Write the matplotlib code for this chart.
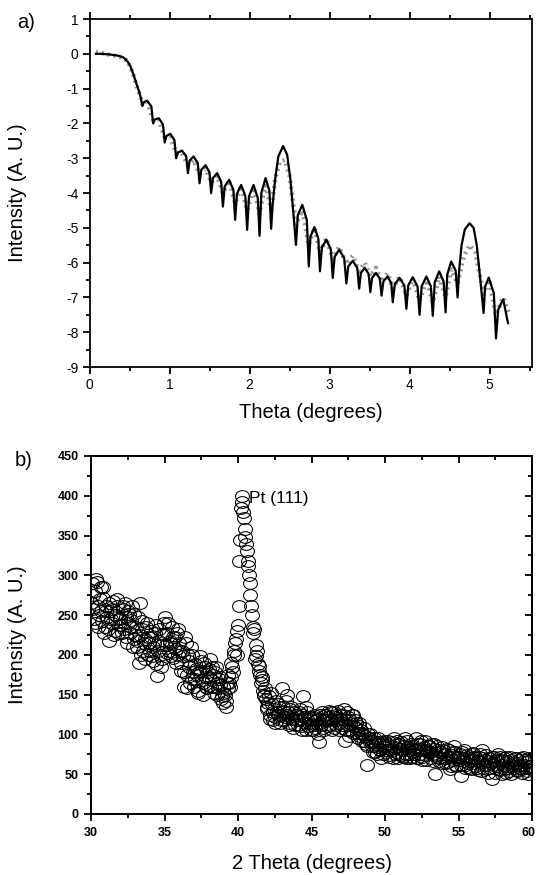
import numpy as np
import matplotlib
matplotlib.use("Agg")
import matplotlib.pyplot as plt
import matplotlib.transforms as mtransforms
from matplotlib.path import Path
from matplotlib.ticker import MultipleLocator

plt.rcParams['font.family'] = ['Liberation Sans', 'DejaVu Sans']
plt.rcParams['axes.unicode_minus'] = False

# ---- panel a: reflectivity, simulated (solid) and measured (dots) ----
sim_theta = [0.08, 0.15, 0.25, 0.35, 0.42, 0.47, 0.51, 0.55, 0.585, 0.615, 0.64,
             0.66, 0.678, 0.72, 0.773,
             0.795, 0.816, 0.865, 0.918,
             0.94, 0.961, 1.01, 1.061,
             1.083, 1.105, 1.155, 1.208,
             1.23, 1.251, 1.30, 1.353,
             1.375, 1.398, 1.45, 1.499,
             1.52, 1.543, 1.595, 1.645,
             1.667, 1.69, 1.745, 1.798,
             1.82, 1.843, 1.895, 1.948,
             1.97, 1.994, 2.05, 2.103,
             2.125, 2.148, 2.20, 2.249,
             2.27, 2.29, 2.32, 2.36, 2.42, 2.47, 2.51, 2.545,
             2.58, 2.604, 2.66, 2.716,
             2.74, 2.761, 2.81, 2.859,
             2.88, 2.904, 2.96, 3.016,
             3.04, 3.064, 3.12, 3.183,
             3.21, 3.234, 3.29, 3.346,
             3.37, 3.391, 3.44, 3.489,
             3.51, 3.531, 3.58, 3.629,
             3.65, 3.673, 3.725, 3.771,
             3.79, 3.816, 3.875, 3.935,
             3.96, 3.984, 4.04, 4.10,
             4.125, 4.151, 4.21, 4.266,
             4.29, 4.314, 4.37, 4.426,
             4.45, 4.471, 4.52, 4.576,
             4.60, 4.62, 4.65, 4.69, 4.75, 4.80, 4.84, 4.88,
             4.925, 4.944, 4.99, 5.053,
             5.08, 5.107, 5.17, 5.23]
sim_int = [0.0, 0.0, -0.02, -0.05, -0.1, -0.2, -0.35, -0.6, -0.85, -1.05, -1.25,
           -1.5, -1.39, -1.35, -1.51,
           -2.0, -1.89, -1.85, -2.03,
           -2.55, -2.36, -2.3, -2.48,
           -3.0, -2.84, -2.78, -2.94,
           -3.43, -3.07, -2.95, -3.14,
           -3.72, -3.33, -3.2, -3.4,
           -4.0, -3.57, -3.43, -3.67,
           -4.39, -3.81, -3.62, -3.91,
           -4.77, -4.02, -3.77, -4.09,
           -5.06, -4.09, -3.77, -4.14,
           -5.23, -3.99, -3.57, -3.94,
           -5.03, -4.3, -3.6, -2.95, -2.65, -2.9, -3.6, -4.5,
           -5.49, -4.63, -4.34, -4.78,
           -6.11, -5.26, -4.98, -5.3,
           -6.25, -5.57, -5.34, -5.62,
           -6.44, -5.83, -5.63, -5.87,
           -6.6, -6.11, -5.95, -6.15,
           -6.75, -6.3, -6.15, -6.33,
           -6.85, -6.44, -6.3, -6.46,
           -6.95, -6.54, -6.4, -6.59,
           -7.14, -6.62, -6.44, -6.66,
           -7.33, -6.65, -6.42, -6.69,
           -7.5, -6.68, -6.4, -6.68,
           -7.53, -6.57, -6.25, -6.55,
           -7.43, -6.34, -5.97, -6.23,
           -7.0, -6.2, -5.5, -5.05, -4.87, -5.0, -5.5, -6.4,
           -7.45, -6.69, -6.43, -6.88,
           -8.18, -7.35, -7.05, -7.74]

meas_theta = [0.08, 0.2, 0.3, 0.4, 0.47, 0.52, 0.56, 0.6, 0.64,
              0.66, 0.72, 0.795, 0.865, 0.94, 1.01, 1.083, 1.155, 1.23, 1.30,
              1.375, 1.45, 1.52, 1.595, 1.667, 1.745, 1.82, 1.895, 1.97, 2.05,
              2.125, 2.2, 2.27, 2.32, 2.38, 2.44, 2.5, 2.58, 2.66, 2.74, 2.81,
              2.88, 2.96, 3.04, 3.12, 3.21, 3.29, 3.37, 3.44, 3.51, 3.58, 3.65,
              3.725, 3.79, 3.875, 3.96, 4.04, 4.125, 4.21, 4.29, 4.37, 4.45,
              4.52, 4.6, 4.68, 4.75, 4.82, 4.925, 4.99, 5.08, 5.17, 5.25]
meas_int = [0.05, 0.0, -0.05, -0.1, -0.2, -0.42, -0.7, -1.0, -1.25,
            -1.45, -1.38, -1.9, -1.9, -2.4, -2.4, -2.85, -2.85, -3.2, -3.05,
            -3.45, -3.3, -3.7, -3.5, -4.0, -3.65, -4.3, -3.8, -4.5, -3.85,
            -4.6, -3.7, -4.5, -3.6, -3.1, -3.05, -3.5, -4.9, -4.5, -5.5, -5.0,
            -5.7, -5.3, -5.9, -5.55, -6.05, -5.8, -6.25, -6.0, -6.4, -6.15, -6.55,
            -6.3, -6.75, -6.4, -6.95, -6.45, -7.1, -6.5, -7.15, -6.4, -7.0,
            -6.2, -6.6, -5.8, -5.5, -5.7, -6.9, -6.5, -7.5, -7.0, -7.5]

# ---- panel b: XRD scan, 2 theta 30..60, two interleaved passes ----
two_theta_a = np.round(np.arange(30.0, 60.001, 0.1), 2)
counts_a = [
    265, 290, 245, 280, 292, 235, 270, 255, 285, 228,   # 30
    262, 248, 218, 255, 240, 268, 230, 250, 262, 238,   # 31
    245, 228, 258, 265, 222, 240, 252, 235, 262, 220,   # 32
    225, 210, 248, 265, 200, 232, 215, 195, 240, 222,   # 33
    205, 230, 192, 215, 238, 173, 218, 200, 195, 226,   # 34
    248, 212, 228, 205, 218, 235, 196, 222, 208, 232,   # 35
    215, 190, 205, 178, 222, 158, 200, 185, 210, 170,   # 36
    160, 188, 175, 152, 198, 180, 165, 190, 172, 158,   # 37
    182, 195, 168, 175, 160, 185, 150, 170, 162, 148,   # 38
    140, 150, 135, 158, 165, 172, 185, 200, 215, 230,   # 39
    238, 318, 385, 400, 372, 348, 330, 312, 290, 262,   # 40
    235, 232, 198, 205, 186, 175, 168, 155, 150, 145,   # 41
    132, 148, 120, 138, 128, 115, 142, 125, 135, 118,   # 42
    158, 130, 122, 150, 128, 115, 135, 120, 128, 112,   # 43
    125, 118, 132, 110, 148, 122, 105, 128, 115, 120,   # 44
    118, 105, 125, 112, 120, 90, 115, 128, 108, 118,    # 45
    125, 110, 130, 118, 105, 128, 122, 112, 130, 115,   # 46
    120, 108, 132, 92, 128, 112, 118, 106, 125, 110,    # 47
    115, 102, 110, 98, 105, 100, 92, 88, 62, 95,        # 48
    100, 85, 92, 78, 88, 95, 82, 70, 90, 84,            # 49
    86, 78, 92, 72, 85, 80, 95, 75, 88, 70,             # 50
    82, 90, 72, 85, 76, 92, 80, 70, 86, 78,             # 51
    75, 96, 70, 82, 88, 72, 80, 92, 68, 78,             # 52
    85, 70, 76, 88, 50, 72, 80, 66, 78, 84,             # 53
    70, 76, 82, 65, 72, 60, 78, 85, 62, 72,             # 54
    68, 75, 48, 70, 80, 62, 72, 58, 66, 76,             # 55
    77, 60, 70, 55, 72, 65, 80, 58, 68, 62,             # 56
    52, 70, 64, 44, 72, 58, 66, 75, 55, 68,             # 57
    62, 70, 52, 66, 58, 72, 50, 64, 60, 70,             # 58
    55, 68, 62, 52, 72, 58, 65, 50, 70, 60,             # 59
    58]

two_theta_b = np.round(np.arange(30.05, 60.0, 0.1), 2)
counts_b = [
    258, 275, 240, 295, 262, 250, 285, 242, 272, 235,   # 30
    255, 232, 265, 245, 258, 225, 250, 270, 228, 246,   # 31
    238, 262, 232, 248, 215, 255, 228, 244, 210, 252,   # 32
    235, 218, 190, 225, 242, 205, 220, 235, 200, 215,   # 33
    222, 198, 210, 228, 188, 205, 232, 185, 212, 240,   # 34
    225, 202, 240, 215, 198, 222, 210, 190, 228, 200,   # 35
    205, 180, 198, 160, 215, 175, 192, 165, 200, 178,   # 36
    170, 182, 155, 178, 192, 168, 150, 185, 160, 178,   # 37
    172, 160, 185, 152, 178, 165, 158, 172, 145, 160,   # 38
    152, 142, 165, 175, 160, 190, 178, 205, 220, 200,   # 39
    262, 345, 392, 380, 358, 340, 318, 300, 275, 250,   # 40
    228, 195, 212, 188, 180, 165, 172, 148, 158, 135,   # 41
    140, 125, 152, 118, 132, 122, 128, 138, 115, 125,   # 42
    135, 118, 142, 125, 112, 132, 120, 108, 125, 118,   # 43
    112, 128, 120, 105, 125, 115, 135, 110, 122, 105,   # 44
    112, 122, 108, 118, 100, 125, 112, 120, 105, 125,   # 45
    118, 122, 112, 128, 120, 108, 125, 118, 105, 125,   # 46
    112, 125, 118, 105, 122, 98, 115, 125, 102, 118,    # 47
    108, 95, 115, 102, 92, 108, 98, 85, 100, 90,        # 48
    92, 78, 95, 85, 75, 90, 80, 88, 76, 92,             # 49
    80, 88, 74, 82, 90, 70, 84, 78, 92, 76,             # 50
    88, 74, 80, 95, 70, 84, 76, 88, 72, 82,             # 51
    82, 70, 88, 76, 92, 68, 84, 74, 80, 86,             # 52
    78, 88, 66, 82, 74, 86, 70, 78, 64, 80,             # 53
    76, 64, 72, 80, 56, 74, 68, 78, 60, 70,             # 54
    72, 62, 78, 66, 58, 74, 64, 70, 56, 68,             # 55
    64, 72, 58, 66, 76, 54, 70, 62, 74, 56,             # 56
    66, 58, 72, 62, 52, 68, 60, 56, 72, 50,             # 57
    66, 56, 72, 60, 54, 68, 62, 58, 70, 54,             # 58
    64, 58, 70, 56, 62, 68, 54, 66, 60, 56]             # 59

W, H = 537, 875
fig = plt.figure(figsize=(W / 100, H / 100), dpi=100)


def style_ticks(ax, direction, **kw):
    ax.tick_params(which='both', direction=direction, width=1.3, **kw)
    ax.tick_params(which='major', length=5)
    ax.tick_params(which='minor', length=3)


# top panel
ax1 = fig.add_axes([89.5 / W, 1 - 367 / H, 442.5 / W, 348 / H])
ax1.plot(meas_theta, meas_int, color='0.5', lw=3.2, ls=(0, (0.45, 0.9)), alpha=0.85)
ax1.plot(sim_theta, sim_int, color='black', lw=1.6, solid_joinstyle='round')
ax1.set_xlim(0, 5.53)
ax1.set_ylim(-9, 1)
ax1.xaxis.set_major_locator(MultipleLocator(1))
ax1.xaxis.set_minor_locator(MultipleLocator(0.5))
ax1.yaxis.set_major_locator(MultipleLocator(1))
ax1.yaxis.set_minor_locator(MultipleLocator(0.5))
style_ticks(ax1, 'out', top=True, right=False, labelsize=10, pad=3)
ax1.set_xlabel('Theta (degrees)', fontsize=14.5, labelpad=8)
ax1.set_ylabel('Intensity (A. U.)', fontsize=14.5)
ax1.yaxis.set_label_coords(-0.141, 0.5)
for s in ax1.spines.values():
    s.set_linewidth(1.3)

# bottom panel
ell = Path.unit_circle().transformed(mtransforms.Affine2D().scale(1.18, 1.0))
ax2 = fig.add_axes([91 / W, 1 - 814 / H, 441 / W, 358 / H])
for tt, cc in ((two_theta_a, counts_a), (two_theta_b, counts_b)):
    ax2.plot(tt, cc, ls='none', marker=ell, ms=10,
             mfc='none', mec='black', mew=0.75)
ax2.set_xlim(30, 60)
ax2.set_ylim(0, 450)
ax2.set_xticks([30, 35, 40, 45, 50, 55, 60])
ax2.set_xticklabels(['30', '35', '40', '45', '50', '55', '60'])
ax2.xaxis.set_minor_locator(MultipleLocator(2.5))
ax2.yaxis.set_major_locator(MultipleLocator(50))
ax2.yaxis.set_minor_locator(MultipleLocator(25))
style_ticks(ax2, 'out', labelsize=9, pad=4)
for lbl in ax2.get_xticklabels() + ax2.get_yticklabels():
    lbl.set_fontweight('bold')
last = ax2.get_xticklabels()[-1]
last.set_transform(last.get_transform() +
                   mtransforms.ScaledTranslation(-4 / 100, 0, fig.dpi_scale_trans))

# top/right ticks point inward on this panel
ax2_top = ax2.twiny()
ax2_top.set_xlim(ax2.get_xlim())
ax2_top.xaxis.set_major_locator(MultipleLocator(5))
ax2_top.xaxis.set_minor_locator(MultipleLocator(2.5))
style_ticks(ax2_top, 'in', labeltop=False)
ax2_r = ax2.twinx()
ax2_r.set_ylim(ax2.get_ylim())
ax2_r.yaxis.set_major_locator(MultipleLocator(50))
ax2_r.yaxis.set_minor_locator(MultipleLocator(25))
style_ticks(ax2_r, 'in', labelright=False)

ax2.set_xlabel('2 Theta (degrees)', fontsize=14.5, labelpad=11)
ax2.set_ylabel('Intensity (A. U.)', fontsize=14.5)
ax2.yaxis.set_label_coords(-0.145, 0.5)
ax2.text(40.75, 396, 'Pt (111)', fontsize=12.5, va='center', ha='left')
for a in (ax2, ax2_top, ax2_r):
    for s in a.spines.values():
        s.set_linewidth(1.3)

fig.text(26 / W, 1 - 23 / H, 'a)', fontsize=14.5, ha='center', va='center')
fig.text(24 / W, 1 - 461 / H, 'b)', fontsize=14.5, ha='center', va='center')

fig.savefig('out.png', dpi=100)
